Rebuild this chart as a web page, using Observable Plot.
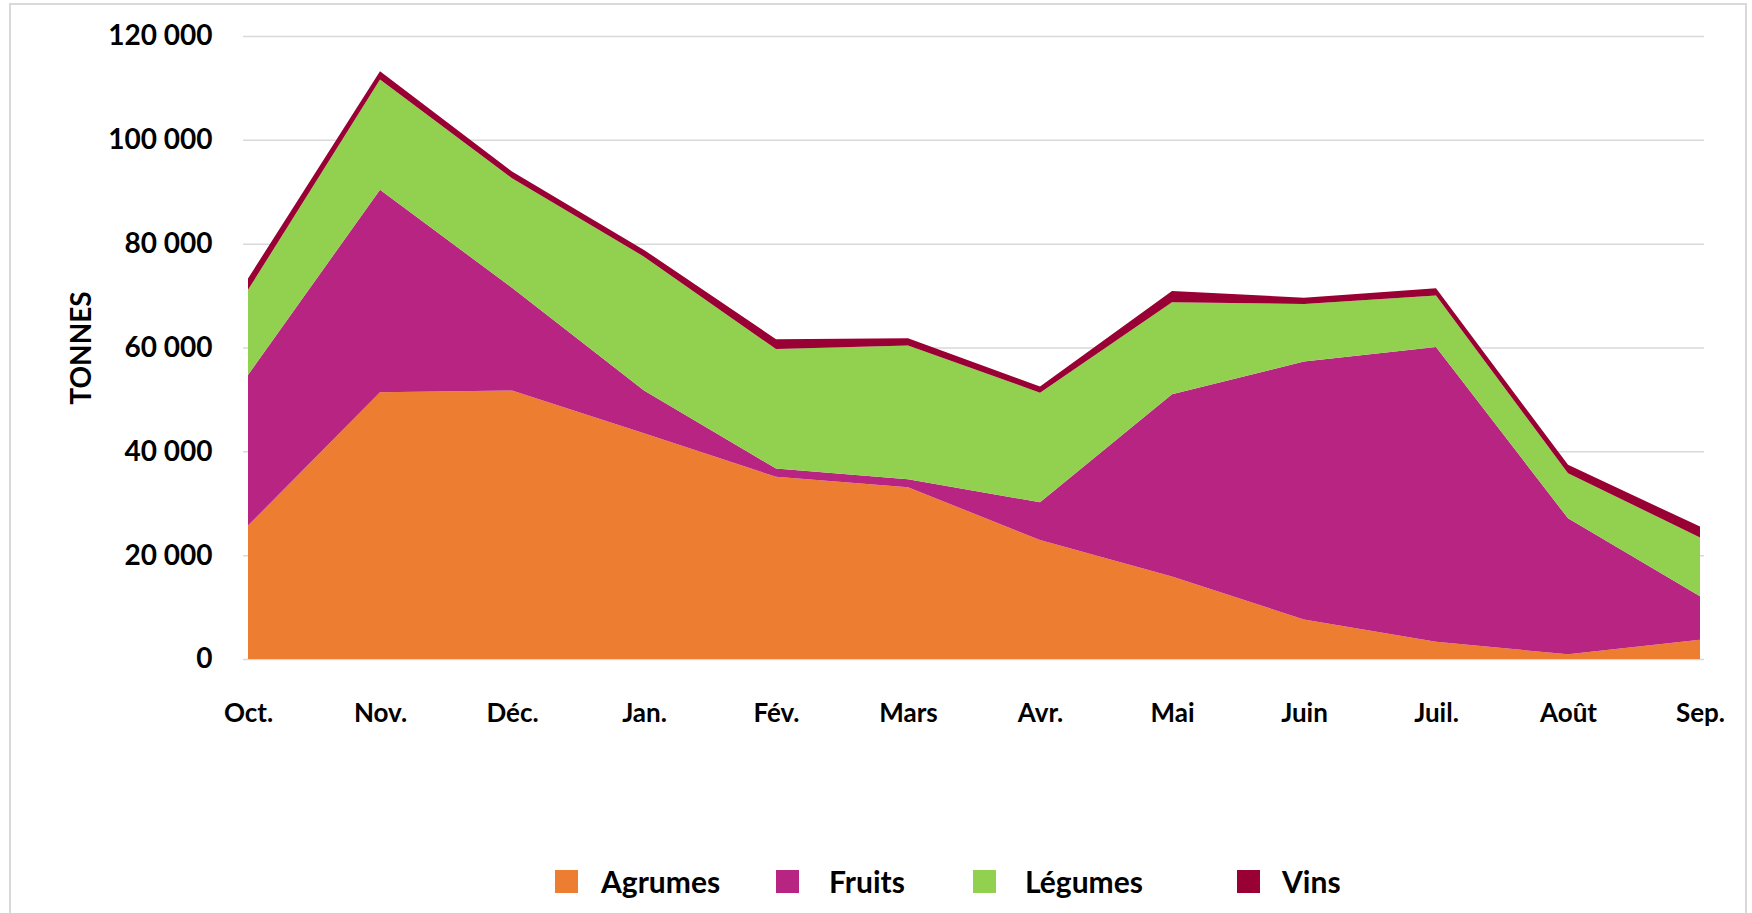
<!DOCTYPE html>
<html>
<head>
<meta charset="utf-8">
<script src="https://cdn.jsdelivr.net/npm/d3@7"></script>
<script src="https://cdn.jsdelivr.net/npm/@observablehq/plot@0.6"></script>
<style>
  html, body { margin: 0; padding: 0; background: #fff; }
  body { width: 1752px; height: 913px; position: relative; overflow: hidden; font-family: Lato, "Open Sans", sans-serif; }
  #frame { position: absolute; left: 9px; top: 3px; width: 1738px; height: 1000px; border: 2px solid #d9d9d9; box-sizing: border-box; }
  #chart { position: absolute; left: 0; top: 0; }
  #legend { position: absolute; top: 866px; left: 0; width: 1752px; height: 30px; font-weight: 700; font-size: 30px; color: #000; }
  .item { position: absolute; top: 0; display: flex; align-items: center; height: 30px; }
  .sw { width: 23px; height: 23px; }
  .item:nth-child(1) { left: 555px; } .item:nth-child(1) .sw { margin-right: 23px; }
  .item:nth-child(2) { left: 776px; } .item:nth-child(2) .sw { margin-right: 30px; }
  .item:nth-child(3) { left: 973px; } .item:nth-child(3) .sw { margin-right: 29px; }
  .item:nth-child(4) { left: 1237px; } .item:nth-child(4) .sw { margin-right: 22px; }
</style>
</head>
<body>
<div id="frame"></div>
<div id="chart"></div>
<div id="legend"></div>
<script>
const months = ["Oct.", "Nov.", "Déc.", "Jan.", "Fév.", "Mars", "Avr.", "Mai", "Juin", "Juil.", "Août", "Sep."];
const seriesNames = ["Agrumes", "Fruits", "Légumes", "Vins"];
const seriesColors = ["#ED7D31", "#B82482", "#92D050", "#990033"];
const agrumes = [25700, 51400, 51700, 43500, 35100, 33100, 22900, 15900, 7600, 3300, 900, 3700];
const fruits  = [29000, 39000, 19800, 8200, 1600, 1500, 7300, 35100, 49700, 56800, 26200, 8400];
const legumes = [16400, 21200, 21100, 25800, 23000, 25800, 21100, 17700, 11100, 9900, 8700, 11300];
const vins    = [2200, 1600, 1300, 1300, 1900, 1400, 1200, 2200, 1200, 1400, 1600, 2100];
const yTicks = [0, 20000, 40000, 60000, 80000, 100000, 120000];

const seriesValues = [agrumes, fruits, legumes, vins];
const data = [];
seriesNames.forEach((s, i) => {
  months.forEach((m, j) => data.push({month: m, series: s, value: seriesValues[i][j]}));
});

const fmt = d => d3.format(",")(d).replace(/,/g, " ");

const chart = Plot.plot({
  width: 1752,
  height: 740,
  marginLeft: 243,
  marginRight: 48,
  marginTop: 36,
  marginBottom: 81,
  style: {fontFamily: "Lato, 'Open Sans', sans-serif", fontWeight: 700, color: "#000", background: "transparent"},
  x: {type: "point", domain: months, padding: 0},
  y: {domain: [0, 120000]},
  color: {domain: seriesNames, range: seriesColors},
  marks: [
    Plot.gridY(yTicks, {stroke: "#d9d9d9", strokeOpacity: 1, strokeWidth: 1.5}),
    Plot.areaY(data, {x: "month", y: "value", fill: "series", z: "series", order: seriesNames}),
    Plot.axisY(yTicks, {tickSize: 0, tickPadding: 31, tickFormat: fmt, fontSize: 28, fontWeight: 700, label: null}),
    Plot.axisX({tickSize: 0, tickPadding: 44, fontSize: 26, fontWeight: 700, label: null}),
    Plot.text(["TONNES"], {frameAnchor: "left", textAnchor: "middle", rotate: -90, dx: -161, fontSize: 28, fontWeight: 700, fill: "#000"})
  ]
});
document.getElementById("chart").appendChild(chart);

const legend = document.getElementById("legend");
seriesNames.forEach((s, i) => {
  const it = document.createElement("div");
  it.className = "item";
  const sw = document.createElement("div");
  sw.className = "sw";
  sw.style.background = seriesColors[i];
  const t = document.createElement("span");
  t.textContent = s;
  it.appendChild(sw);
  it.appendChild(t);
  legend.appendChild(it);
});
</script>
</body>
</html>
